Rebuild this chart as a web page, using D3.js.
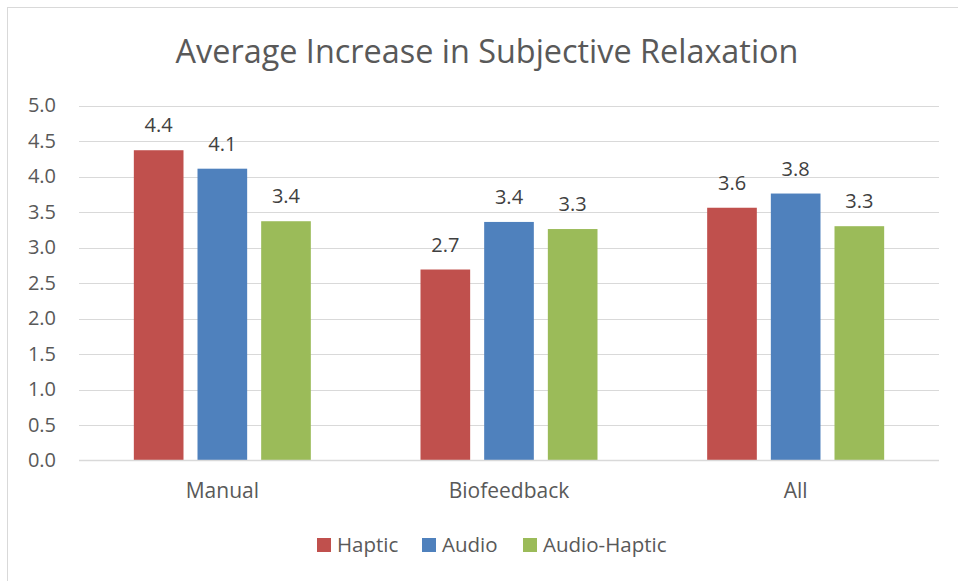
<!DOCTYPE html>
<html>
<head>
<meta charset="utf-8">
<script src="https://cdn.jsdelivr.net/npm/d3@7"></script>
<style>
  html, body { margin: 0; padding: 0; background: #ffffff; }
  svg { display: block; font-family: "Open Sans", "Noto Sans", sans-serif; }
</style>
</head>
<body>
<svg id="chart" width="958" height="581"></svg>
<script>
// Average increase in subjective relaxation, by condition and feedback type
const categories = ["Manual", "Biofeedback", "All"];
const seriesNames = ["Haptic", "Audio", "Audio-Haptic"];
const hapticValues = [4.37, 2.69, 3.56];
const audioValues = [4.11, 3.36, 3.76];
const audioHapticValues = [3.37, 3.26, 3.30];
const yTicks = [0, 0.5, 1, 1.5, 2, 2.5, 3, 3.5, 4, 4.5, 5];
const titleText = "Average Increase in Subjective Relaxation";

const seriesValues = [hapticValues, audioValues, audioHapticValues];
const colors = ["#C0504D", "#4F81BD", "#9BBB59"];
const textColor = "#595959";

const svg = d3.select("#chart");

// Outer chart frame
svg.append("rect")
  .attr("x", 7.5).attr("y", 7.5)
  .attr("width", 958).attr("height", 581)
  .attr("fill", "#ffffff")
  .attr("stroke", "#d9d9d9").attr("stroke-width", 1);

const plot = { left: 79, right: 939, top: 105.5, bottom: 460.5 };

const y = d3.scaleLinear().domain([0, 5]).range([plot.bottom, plot.top]);
const x0 = d3.scaleBand().domain(categories).range([plot.left, plot.right]);
const groupWidth = 177;
const x1 = d3.scaleBand().domain(seriesNames)
  .range([-groupWidth / 2, groupWidth / 2]).paddingInner(0.22);

// Title
svg.append("text")
  .attr("x", 487).attr("y", 62.5)
  .attr("text-anchor", "middle")
  .attr("fill", textColor)
  .style("font-size", "32.4px")
  .text(titleText);

// Horizontal gridlines
svg.append("g").selectAll("line")
  .data(yTicks.filter(d => d > 0))
  .join("line")
  .attr("x1", plot.left).attr("x2", plot.right)
  .attr("y1", d => Math.round(y(d)) + 0.5).attr("y2", d => Math.round(y(d)) + 0.5)
  .attr("stroke", "#d9d9d9").attr("stroke-width", 1);

// Y axis labels
const yAxis = d3.axisLeft(y).tickValues(yTicks).tickFormat(d3.format(".1f")).tickSize(0).tickPadding(0);
const yAxisG = svg.append("g").attr("transform", "translate(56,0)").call(yAxis);
yAxisG.select(".domain").remove();
yAxisG.selectAll("text")
  .attr("fill", textColor)
  .style("font-size", "20px")
  .style("font-family", "'Open Sans', sans-serif");

// Bars
const groups = svg.append("g").selectAll("g")
  .data(categories)
  .join("g")
  .attr("transform", d => `translate(${x0(d) + x0.bandwidth() / 2},0)`);

groups.selectAll("rect")
  .data((c, ci) => seriesNames.map((s, si) => ({ s, si, v: seriesValues[si][ci] })))
  .join("rect")
  .attr("x", d => x1(d.s))
  .attr("width", x1.bandwidth())
  .attr("y", d => y(d.v))
  .attr("height", d => y(0) - y(d.v))
  .attr("fill", d => colors[d.si]);

// Value labels
groups.selectAll("text.value")
  .data((c, ci) => seriesNames.map((s, si) => ({ s, si, v: seriesValues[si][ci] })))
  .join("text")
  .attr("class", "value")
  .attr("x", d => x1(d.s) + x1.bandwidth() / 2)
  .attr("y", d => y(d.v) - 18)
  .attr("text-anchor", "middle")
  .attr("fill", "#404040")
  .style("font-size", "20px")
  .text(d => d3.format(".1f")(d.v));

// Baseline axis
svg.append("line")
  .attr("x1", plot.left).attr("x2", plot.right)
  .attr("y1", plot.bottom).attr("y2", plot.bottom)
  .attr("stroke", "#d9d9d9").attr("stroke-width", 1.5);

// Category labels
const xAxis = d3.axisBottom(x0).tickSize(0).tickPadding(0);
const xAxisG = svg.append("g").attr("transform", "translate(0,498)").call(xAxis);
xAxisG.select(".domain").remove();
xAxisG.selectAll("text")
  .attr("dy", 0)
  .attr("fill", textColor)
  .style("font-size", "21px")
  .style("font-family", "'Open Sans', sans-serif");

// Legend
const legendX = [317, 422, 523];
const legend = svg.append("g").selectAll("g")
  .data(seriesNames)
  .join("g")
  .attr("transform", (d, i) => `translate(${legendX[i]},538)`);
legend.append("rect")
  .attr("width", 14).attr("height", 14)
  .attr("fill", (d, i) => colors[i]);
legend.append("text")
  .attr("x", 20).attr("y", 13.5)
  .attr("fill", textColor)
  .style("font-size", "20.5px")
  .text(d => d);
</script>
</body>
</html>
